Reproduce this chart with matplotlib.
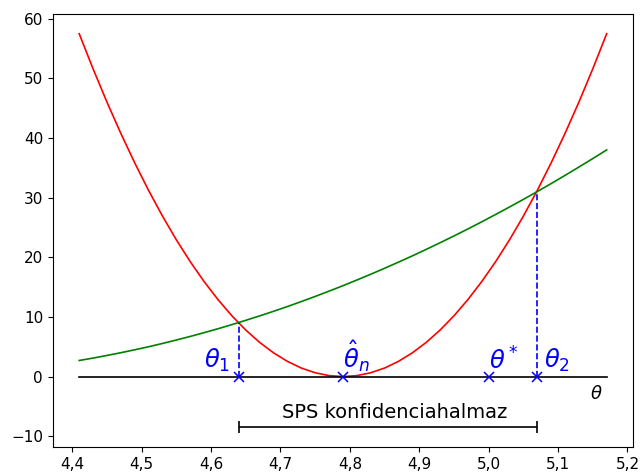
import numpy as np
import matplotlib
matplotlib.use("Agg")
import matplotlib.pyplot as plt
from matplotlib.ticker import FuncFormatter

theta = [4.41, 4.43, 4.45, 4.47, 4.49, 4.51, 4.53, 4.55, 4.57, 4.59, 4.61, 4.63,
         4.65, 4.67, 4.69, 4.71, 4.73, 4.75, 4.77, 4.79, 4.81, 4.83, 4.85, 4.87,
         4.89, 4.91, 4.93, 4.95, 4.97, 4.99, 5.01, 5.03, 5.05, 5.07, 5.09, 5.11,
         5.13, 5.15, 5.17]
red_curve = [57.47, 51.58, 46.01, 40.76, 35.82, 31.20, 26.90, 22.92, 19.26, 15.92,
             12.90, 10.19, 7.80, 5.73, 3.98, 2.55, 1.43, 0.64, 0.16, 0.0,
             0.16, 0.64, 1.43, 2.55, 3.98, 5.73, 7.80, 10.19, 12.90, 15.92,
             19.26, 22.92, 26.90, 31.20, 35.82, 40.76, 46.01, 51.58, 57.47]
green_curve = [2.70, 3.10, 3.54, 4.00, 4.49, 5.00, 5.55, 6.13, 6.73, 7.36,
               8.02, 8.71, 9.43, 10.17, 10.94, 11.74, 12.57, 13.43, 14.32, 15.23,
               16.18, 17.15, 18.15, 19.18, 20.23, 21.32, 22.43, 23.57, 24.74, 25.94,
               27.17, 28.42, 29.70, 31.01, 32.35, 33.72, 35.12, 36.54, 37.99]

theta1, theta1_val = 4.64, 9.0
theta2, theta2_val = 5.07, 31.0
theta_hat = 4.79
theta_star = 5.00
bracket_y = -8.5
bracket_label = "SPS konfidenciahalmaz"

fig = plt.figure(figsize=(6.44, 4.75), dpi=100)
ax = fig.add_axes([0.082, 0.059, 0.901, 0.9115])

ax.plot(theta, red_curve, color="red", lw=1.2)
ax.plot(theta, green_curve, color="green", lw=1.2)
ax.plot([theta[0], theta[-1]], [0, 0], color="black", lw=1.2)

ax.plot([theta1, theta1], [0, theta1_val], color="blue", ls="--", lw=1.2)
ax.plot([theta2, theta2], [0, theta2_val], color="blue", ls="--", lw=1.2)
ax.plot([theta1, theta_hat, theta_star, theta2], [0, 0, 0, 0], "x", color="blue",
        ms=6.5, mew=1.1)

ax.errorbar([(theta1 + theta2) / 2], [bracket_y], xerr=[(theta2 - theta1) / 2],
            color="black", capsize=4, lw=1.2, capthick=1.2)
ax.text((theta1 + theta2) / 2 + 0.01, bracket_y + 0.85, bracket_label, ha="center",
        va="bottom", fontsize=14)

fs = 17.5
ax.text(theta1 - 0.012, 0.4, r"$\theta_1$", color="blue", fontsize=fs, ha="right", va="bottom")
ax.text(theta_hat, 0.4, r"$\hat{\theta}_n$", color="blue", fontsize=fs, ha="left", va="bottom")
ax.text(theta_star, 0.4, r"$\theta^*$", color="blue", fontsize=fs, ha="left", va="bottom")
ax.text(theta2 + 0.01, 0.4, r"$\theta_2$", color="blue", fontsize=fs, ha="left", va="bottom")
ax.text(5.155, -3.0, r"$\theta$", color="black", fontsize=13, ha="center", va="center")

ax.set_xticks([4.4, 4.5, 4.6, 4.7, 4.8, 4.9, 5.0, 5.1, 5.2])
ax.xaxis.set_major_formatter(FuncFormatter(lambda v, p: f"{v:.1f}".replace(".", ",")))
ax.set_yticks([-10, 0, 10, 20, 30, 40, 50, 60])
ax.yaxis.set_major_formatter(FuncFormatter(lambda v, p: f"{v:.0f}".replace("-", "\u2212")))
ax.tick_params(labelsize=11)

fig.savefig("out.png", dpi=100)
